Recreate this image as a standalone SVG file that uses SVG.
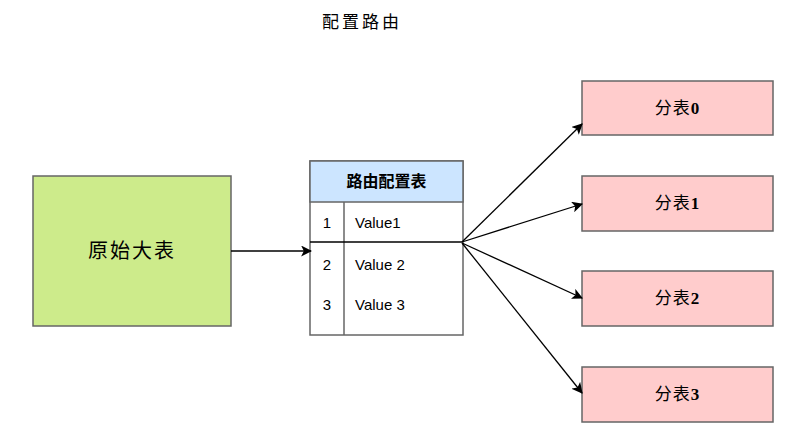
<svg xmlns="http://www.w3.org/2000/svg" width="806" height="435" viewBox="0 0 806 435">
<defs>
<style>
.cjk{font-family:"Liberation Serif","Noto Sans CJK SC",serif;fill:#000}
.sans{font-family:"Liberation Sans","Noto Sans CJK SC",sans-serif;fill:#000}
.box{stroke:#666;stroke-width:1.5}
.edge{stroke:#000;stroke-width:1.3;fill:none}
.num{font-weight:bold}
</style>
<marker id="arr" viewBox="0 0 10 10" refX="9" refY="5" markerWidth="11" markerHeight="11" markerUnits="userSpaceOnUse" orient="auto">
<path d="M0,0 L10,5 L0,10 L2.5,5 Z" fill="#000"/>
</marker>
</defs>
<rect width="806" height="435" fill="#fff"/>
<text class="cjk" x="362" y="28" font-size="17" text-anchor="middle" letter-spacing="3">配置路由</text>

<g id="source">
<rect class="box" x="33" y="176" width="198" height="150" fill="#cdeb8b"/>
<text class="cjk" x="132" y="258" font-size="20" text-anchor="middle" letter-spacing="2">原始大表</text>
</g>

<g id="routing-table">
<rect class="box" x="310" y="161" width="153" height="174" fill="#fff"/>
<rect class="box" x="310" y="161" width="153" height="41" fill="#cce5ff"/>
<line class="box" x1="344" y1="202" x2="344" y2="335"/>
<text class="sans" x="386.5" y="187" font-size="16" font-weight="bold" text-anchor="middle">路由配置表</text>
<text class="sans" x="327" y="228" font-size="15" text-anchor="middle">1</text>
<text class="sans" x="355" y="228" font-size="15">Value1</text>
<text class="sans" x="327" y="270" font-size="15" text-anchor="middle">2</text>
<text class="sans" x="355" y="270" font-size="15">Value 2</text>
<text class="sans" x="327" y="310" font-size="15" text-anchor="middle">3</text>
<text class="sans" x="355" y="310" font-size="15">Value 3</text>
</g>

<g id="shard0">
<rect class="box" x="582" y="81" width="191" height="54" fill="#ffcccc"/>
<text class="cjk" x="677.5" y="114" font-size="17" text-anchor="middle" letter-spacing="1">分表<tspan class="num">0</tspan></text>
</g>
<g id="shard1">
<rect class="box" x="582" y="176" width="191" height="55" fill="#ffcccc"/>
<text class="cjk" x="677.5" y="209" font-size="17" text-anchor="middle" letter-spacing="1">分表<tspan class="num">1</tspan></text>
</g>
<g id="shard2">
<rect class="box" x="582" y="271" width="191" height="55" fill="#ffcccc"/>
<text class="cjk" x="677.5" y="304" font-size="17" text-anchor="middle" letter-spacing="1">分表<tspan class="num">2</tspan></text>
</g>
<g id="shard3">
<rect class="box" x="582" y="367" width="191" height="55" fill="#ffcccc"/>
<text class="cjk" x="677.5" y="400" font-size="17" text-anchor="middle" letter-spacing="1">分表<tspan class="num">3</tspan></text>
</g>

<g id="connectors">
<line class="edge" x1="231" y1="251" x2="311" y2="251" marker-end="url(#arr)"/>
<line class="edge" x1="310" y1="242" x2="462" y2="242"/>
<line class="edge" x1="462" y1="242" x2="582" y2="124" marker-end="url(#arr)"/>
<line class="edge" x1="462" y1="242" x2="582" y2="204" marker-end="url(#arr)"/>
<line class="edge" x1="462" y1="243" x2="582" y2="298" marker-end="url(#arr)"/>
<line class="edge" x1="462" y1="243" x2="582" y2="393" marker-end="url(#arr)"/>
</g>
</svg>
